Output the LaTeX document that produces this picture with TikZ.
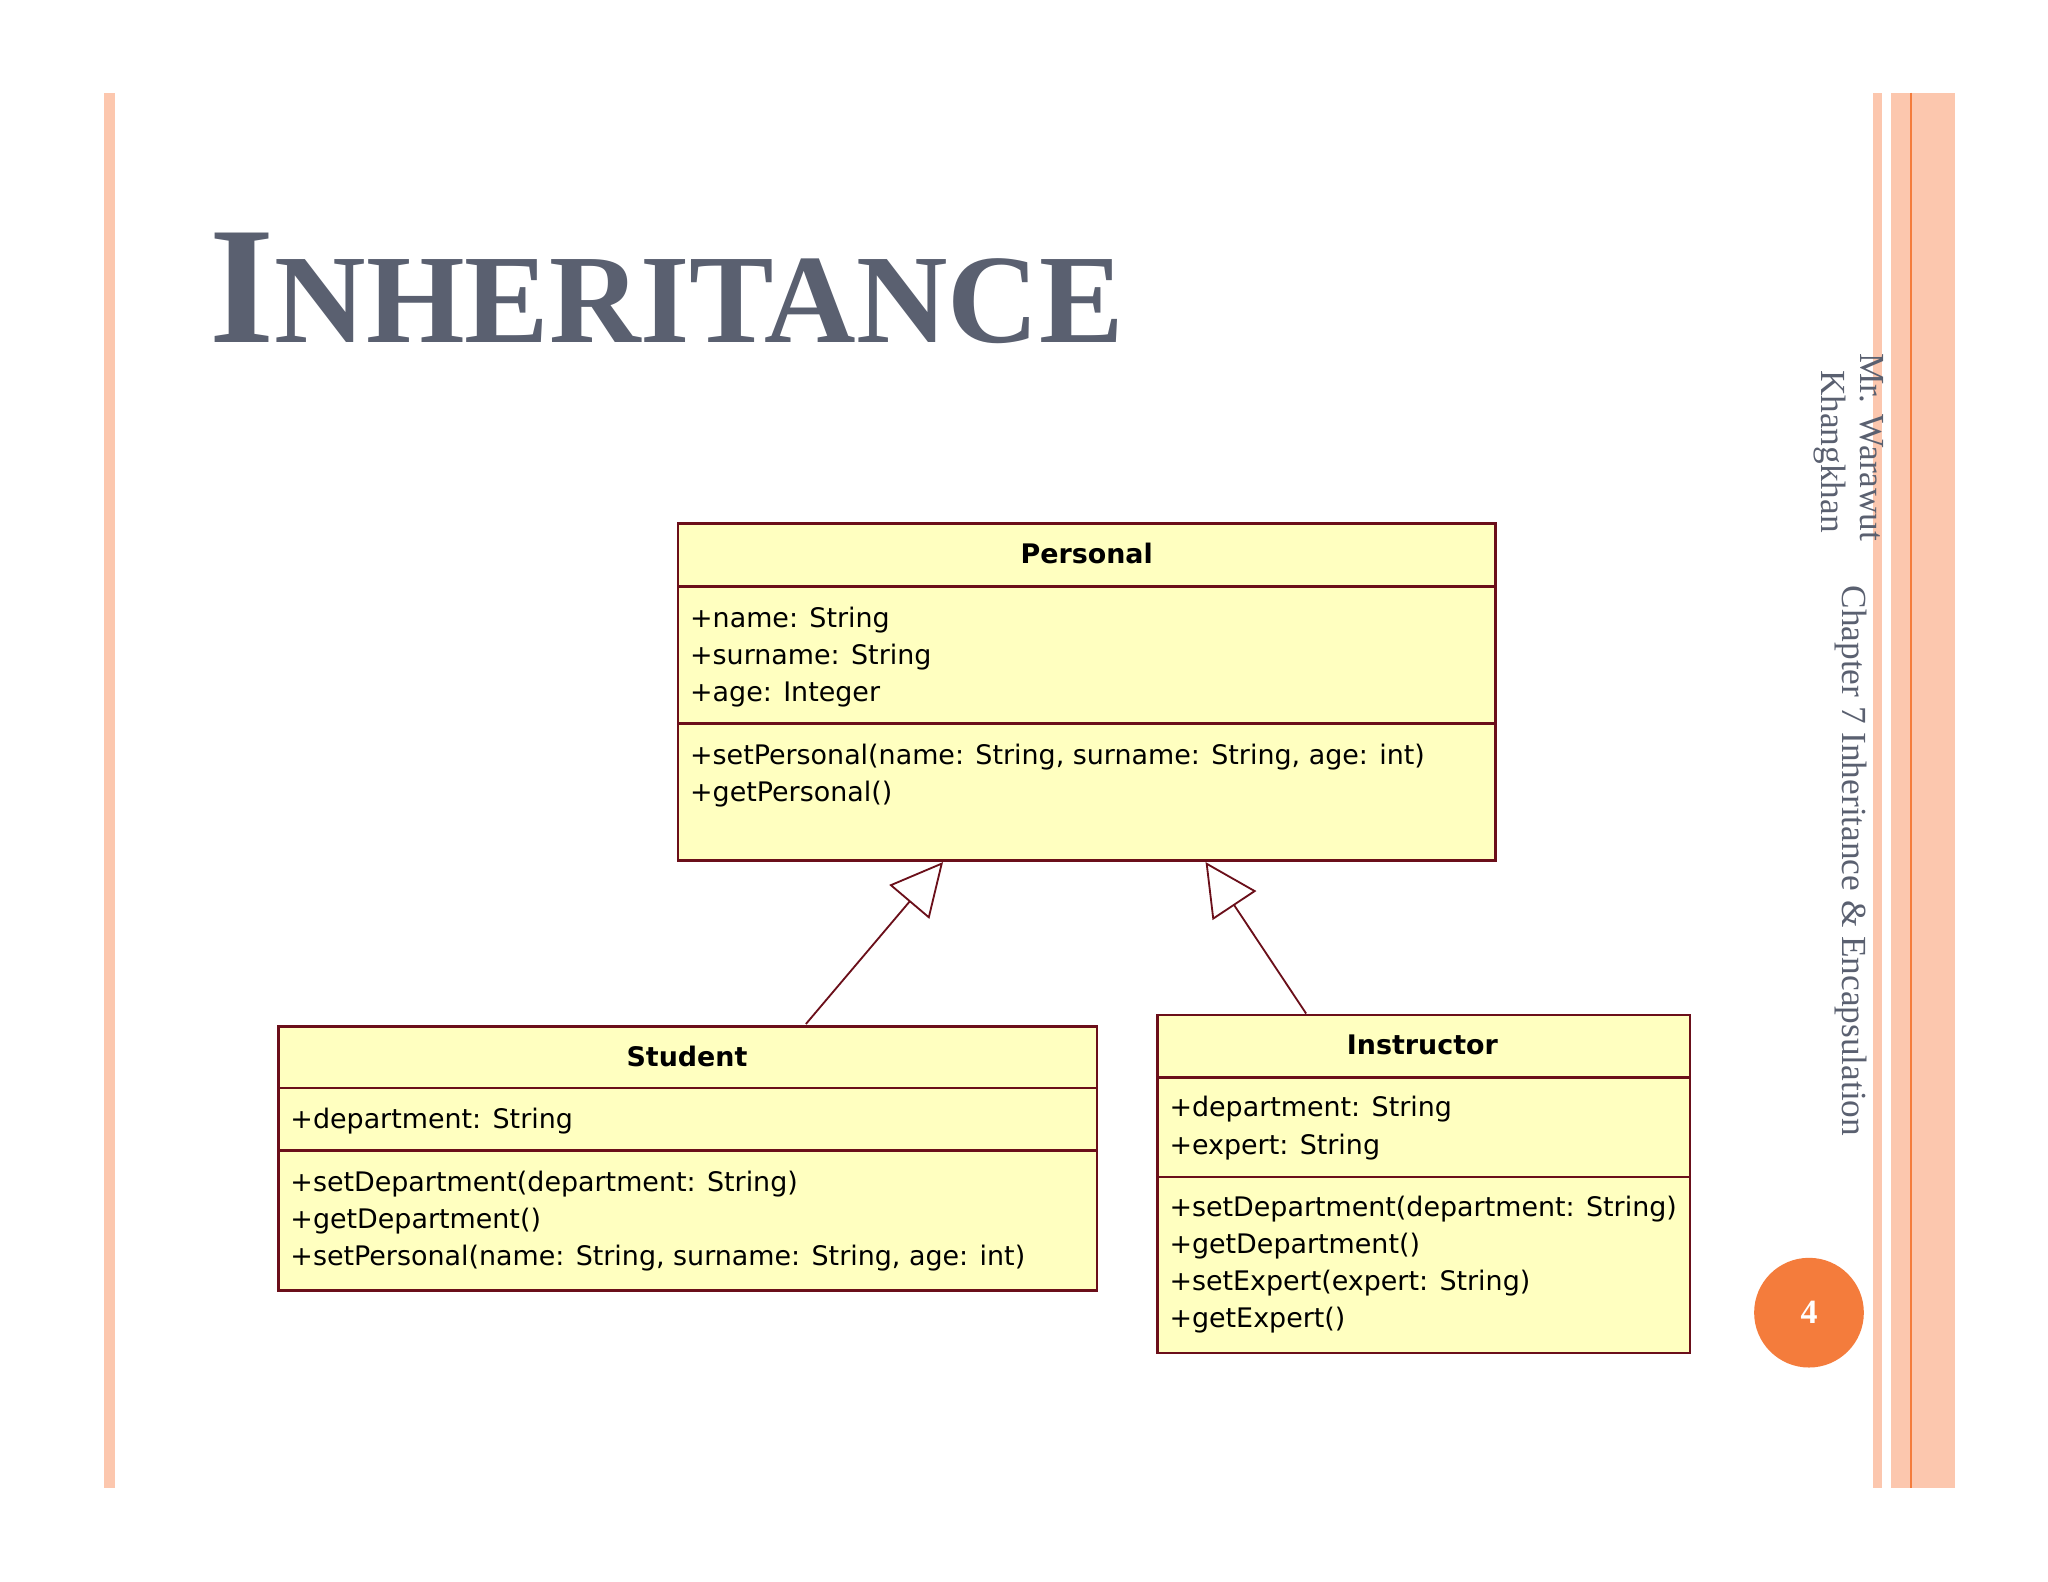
\documentclass[tikz,border=0pt]{standalone}
\usepackage{fontspec}
\setmainfont{Liberation Serif}
\newfontfamily\umlfont{DejaVu Sans}
\usetikzlibrary{arrows.meta}
\definecolor{boxfill}{HTML}{FFFFC0}
\definecolor{boxline}{HTML}{6B0F1A}
\definecolor{stripe}{HTML}{FCC7AE}
\definecolor{orangeline}{HTML}{F47C3C}
\definecolor{titlecol}{HTML}{5A6070}
\begin{document}
\begin{tikzpicture}[x=0.5pt,y=-0.5pt,
  umlbox/.style={draw=boxline,fill=boxfill,line width=1pt},
  umlline/.style={draw=boxline,line width=1pt},
  umltxt/.style={anchor=west,inner sep=0pt,font=\umlfont\fontsize{10.3pt}{14.25pt}\selectfont,align=left},
  umlhead/.style={inner sep=0pt,font=\umlfont\bfseries\fontsize{10.3pt}{12pt}\selectfont},
  inh/.style={draw=boxline,line width=0.7pt,-{Triangle[open,length=20pt,width=20pt,fill=white]}},
  side/.style={rotate=-90,anchor=west,inner sep=0pt,text=titlecol,font=\fontsize{13.5pt}{15pt}\selectfont}]
\useasboundingbox (0,0) rectangle (1568,1211);
\fill[white] (0,0) rectangle (1568,1211);
% stripes
\fill[stripe] (80,71) rectangle (88,1139);
\fill[stripe] (1434,71) rectangle (1441,1139);
\fill[stripe] (1448,71) rectangle (1497,1139);
\draw[orangeline,line width=1pt] (1463,71) -- (1463,1139);
% title
\node[anchor=base west,inner sep=0pt,text=titlecol] (title) at (160,262)
  {\fontsize{64pt}{70pt}\selectfont\bfseries I\fontsize{48.5pt}{50pt}\selectfont NHERITANCE};
% side text
\node[side] (s1) at (1433,270) {Mr. Warawut};
\node[side] (s2) at (1401,283) {Khangkhan};
\node[side] (s3) at (1417,448) {Chapter 7 Inheritance \& Encapsulation};
% page number
\node[circle,fill=orangeline,minimum size=42pt,inner sep=0pt,text=white,font=\bfseries\fontsize{13pt}{14pt}\selectfont] (pg) at (1385,1005) {4};
% Personal
\draw[umlbox] (519,401) rectangle (1145,659);
\draw[umlline] (519,449) -- (1145,449);
\draw[umlline] (519,554) -- (1145,554);
\node[umlhead] (ph) at (832,424) {Personal};
\node[umltxt,anchor=north west] (pa) at (528,464) {+name: String\\+surname: String\\+age: Integer};
\node[umltxt,anchor=north west] (pm) at (528,569) {+setPersonal(name: String, surname: String, age: int)\\+getPersonal()};
% Student
\draw[umlbox] (213,786) rectangle (840,988);
\draw[umlline] (213,833) -- (840,833);
\draw[umlline] (213,881) -- (840,881);
\node[umlhead] (sh) at (526,809) {Student};
\node[umltxt,anchor=north west] (sa) at (222,848) {+department: String};
\node[umltxt,anchor=north west] (sm) at (222,896) {+setDepartment(department: String)\\+getDepartment()\\+setPersonal(name: String, surname: String, age: int)};
% Instructor
\draw[umlbox] (886,777) rectangle (1294,1036);
\draw[umlline] (886,825) -- (1294,825);
\draw[umlline] (886,901) -- (1294,901);
\node[umlhead] (ih) at (1089,800) {Instructor};
\node[umltxt,anchor=north west] (ia) at (895,839) {+department: String\\+expert: String};
\node[umltxt,anchor=north west] (im) at (895,915) {+setDepartment(department: String)\\+getDepartment()\\+setExpert(expert: String)\\+getExpert()};
% connectors
\coordinate (sTop) at (617,784);
\coordinate (pL) at (722,660);
\coordinate (iTop) at (1000,776);
\coordinate (pR) at (923,660);
\draw[inh] (sTop) -- (pL);
\draw[inh] (iTop) -- (pR);
\end{tikzpicture}
\end{document}
